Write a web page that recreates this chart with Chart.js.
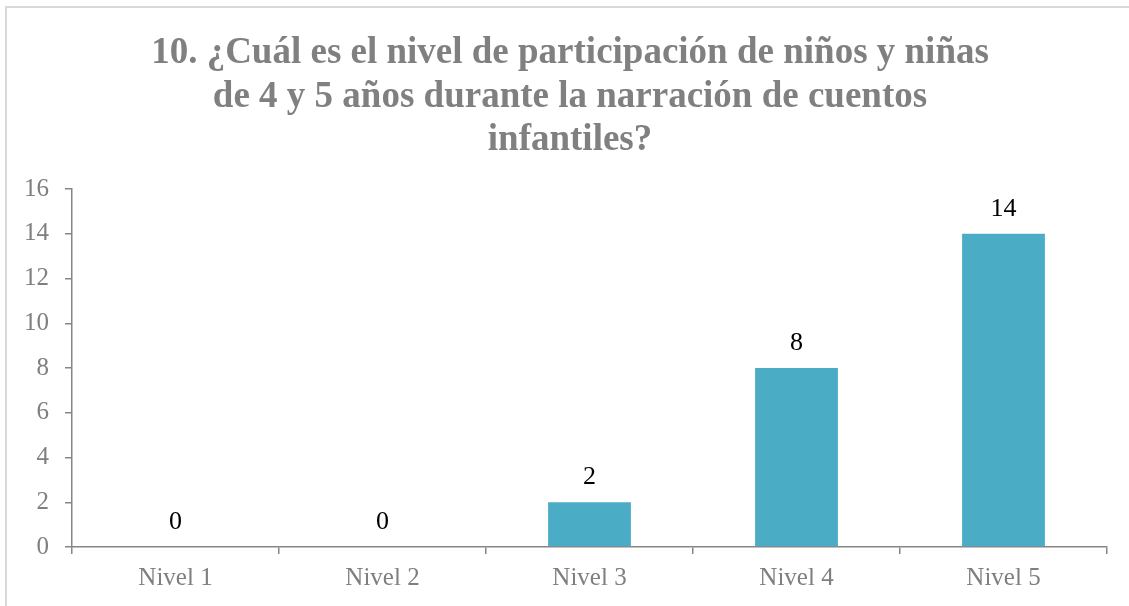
<!DOCTYPE html>
<html>
<head>
<meta charset="utf-8">
<script src="https://cdn.jsdelivr.net/npm/chart.js@4.4.1/dist/chart.umd.min.js"></script>
<style>
  html, body { margin: 0; padding: 0; background: #fff; }
  #wrap { position: relative; width: 1129px; height: 606px; }
  #frame { position: absolute; left: 5px; top: 6px; width: 1130px; height: 610px;
           border-left: 2px solid #d9d9d9; border-top: 2px solid #d9d9d9; box-sizing: border-box; }
  canvas { position: absolute; left: 0; top: 0; }
</style>
</head>
<body>
<div id="wrap">
  <div id="frame"></div>
  <canvas id="chart" width="1129" height="606"></canvas>
</div>
<script>
// --- DATA ---
const titleLines = [
  '10. ¿Cuál es el nivel de participación de niños y niñas',
  'de 4 y 5 años durante la narración de cuentos',
  'infantiles?'
];
const categories = ['Nivel 1', 'Nivel 2', 'Nivel 3', 'Nivel 4', 'Nivel 5'];
const values = [0, 0, 2, 8, 14];
const yTicks = [0, 2, 4, 6, 8, 10, 12, 14, 16];

const serif = '"Liberation Serif", "Times New Roman", serif';
const axisGray = '#868686';
const textGray = '#7f7f7f';

// title drawn centered over the chart, three lines
const titlePlugin = {
  id: 'titleLines',
  afterDraw(chart) {
    const ctx = chart.ctx;
    ctx.save();
    ctx.font = 'bold 37px ' + serif;
    ctx.fillStyle = '#808080';
    ctx.textAlign = 'center';
    ctx.textBaseline = 'alphabetic';
    titleLines.forEach((line, i) => ctx.fillText(line, 570, 63 + i * 43.5));
    ctx.restore();
  }
};

// value labels above each bar
const valueLabels = {
  id: 'valueLabels',
  afterDatasetsDraw(chart) {
    const ctx = chart.ctx;
    const meta = chart.getDatasetMeta(0);
    ctx.save();
    ctx.font = '26px ' + serif;
    ctx.fillStyle = '#000';
    ctx.textAlign = 'center';
    ctx.textBaseline = 'middle';
    meta.data.forEach((bar, i) => {
      ctx.fillText(String(values[i]), bar.x, bar.y - 25);
    });
    ctx.restore();
  }
};

new Chart(document.getElementById('chart'), {
  type: 'bar',
  data: {
    labels: categories,
    datasets: [{ data: values, backgroundColor: '#4bacc6', borderWidth: 0, barPercentage: 0.4, categoryPercentage: 1 }]
  },
  options: {
    responsive: false, animation: false,
    layout: { padding: { left: 0, right: 22, top: 189, bottom: 0 } },
    plugins: { legend: { display: false }, tooltip: { enabled: false } },
    scales: {
      x: {
        offset: true,
        grid: { offset: true, drawOnChartArea: false, drawTicks: true, tickLength: 7, color: axisGray, lineWidth: 1.5 },
        border: { color: axisGray, width: 1.5 },
        ticks: { color: textGray, font: { family: serif, size: 25 }, padding: 9 },
        afterFit: s => { s.height = 59; }
      },
      y: {
        min: 0, max: 16,
        afterBuildTicks: s => { s.ticks = yTicks.map(v => ({ value: v })); },
        grid: { drawOnChartArea: false, drawTicks: true, tickLength: 7, color: axisGray, lineWidth: 1.5 },
        border: { color: axisGray, width: 1.5 },
        ticks: { color: textGray, font: { family: serif, size: 25 }, padding: 16 },
        afterFit: s => { s.width = 72; }
      }
    }
  },
  plugins: [valueLabels, titlePlugin]
});
</script>
</body>
</html>
